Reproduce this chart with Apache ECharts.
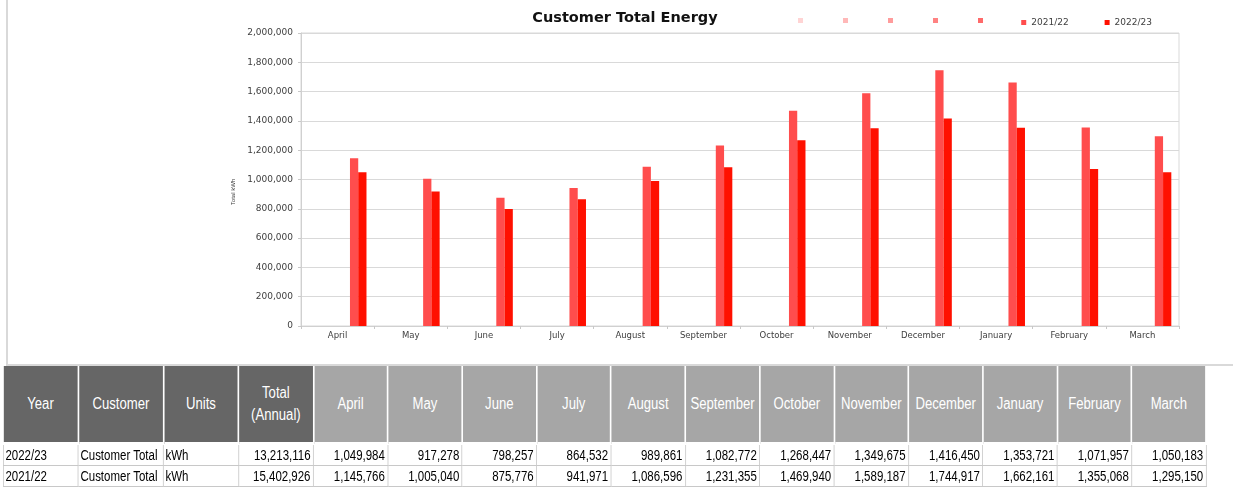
<!DOCTYPE html>
<html>
<head>
<meta charset="utf-8">
<script src="https://cdn.jsdelivr.net/npm/echarts@6/dist/echarts.min.js"></script>
<style>
html,body{margin:0;padding:0;background:#fff;width:1233px;height:495px;overflow:hidden;}
#frame{position:absolute;left:6px;top:-2px;width:1240px;height:368px;border-left:2px solid #d9d9d9;border-bottom:2px solid #d9d9d9;box-sizing:border-box;}
#chart{position:absolute;left:0;top:0;width:1233px;height:366px;}
#tbl{position:absolute;left:3px;top:366px;border-collapse:collapse;table-layout:fixed;
  transform:scaleX(0.82);transform-origin:0 0;
  font-family:"Liberation Sans",Arial,sans-serif;}
#tbl th{height:76px;padding:0;color:#fff;font-weight:normal;font-size:16px;line-height:22px;text-align:center;
  border-right:2px solid #fff;border-bottom:3px solid #fff;}
#tbl th.dark{background:#666666;}
#tbl th.light{background:#a6a6a6;}
#tbl td{height:20px;padding:0 3px;font-size:14px;color:#000;border:1px solid #c8c8c8;white-space:nowrap;overflow:hidden;}
#tbl td.l{text-align:left;padding-left:2px;}
#tbl td.r{text-align:right;}
</style>
</head>
<body>
<div id="frame"></div>
<div id="chart"></div>
<table id="tbl"></table>
<script>
// ---- data ----
const categories = ['April','May','June','July','August','September','October','November','December','January','February','March'];
const values2122 = [1145766,1005040,875776,941971,1086596,1231355,1469940,1589187,1744917,1662161,1355068,1295150];
const values2223 = [1049984,917278,798257,864532,989861,1082772,1268447,1349675,1416450,1353721,1071957,1050183];
const seriesNames = ['2021/22','2022/23'];
const emptySeriesNames = ['e1','e2','e3','e4','e5'];
const tableYears = ['2022/23','2021/22'];
const tableCustomer = ['Customer Total','Customer Total'];
const tableUnits = ['kWh','kWh'];
const tableTotals = [13213116,15402926];
const headerLabels = ['Year','Customer','Units','Total<br>(Annual)'];
const yMin = 0, yMax = 2000000, yInterval = 200000;

// ---- styles ----
const emptyColors = ['#ffd4d4','#ffb8b8','#ff9c9c','#ff8282','#ff6a6a'];
const seriesColors = ['#ff4d4d','#ff1000'];
const fmt = v => Number(v).toLocaleString('en-US');
const txtFont = 'DejaVu Sans';
const scaleK = 0.82;

const series = [];
emptySeriesNames.forEach((n,i)=>{
  series.push({name:n,type:'bar',data:[],itemStyle:{color:emptyColors[i]},barGap:'0%',barCategoryGap:'21%'});
});
series.push({name:seriesNames[0],type:'bar',data:values2122,itemStyle:{color:seriesColors[0]},barGap:'0%',barCategoryGap:'21%'});
series.push({name:seriesNames[1],type:'bar',data:values2223,itemStyle:{color:seriesColors[1]},barGap:'0%',barCategoryGap:'21%'});

const legendBase = {itemWidth:5,itemHeight:5,icon:'rect',top:13,
  textStyle:{fontFamily:txtFont,fontSize:9,color:'#404040'}};

const chart = echarts.init(document.getElementById('chart'), null, {renderer:'canvas'});
chart.setOption({
  animation:false,
  backgroundColor:'transparent',
  title:{text:'Customer Total Energy',left:620,textAlign:'center',top:6,
    textStyle:{fontFamily:txtFont,fontWeight:'bold',fontSize:14.5,color:'#111'}},
  legend:[
    Object.assign({},legendBase,{right:245,itemGap:40,data:emptySeriesNames,formatter:()=>''}),
    Object.assign({},legendBase,{right:76,itemGap:36,data:seriesNames})
  ],
  grid:{left:301,right:54,top:33,bottom:40,show:true,borderColor:'#d9d9d9',borderWidth:1,containLabel:false},
  xAxis:{type:'category',data:categories,
    axisLine:{lineStyle:{color:'#d0d0d0'}},
    axisTick:{show:true,length:3,lineStyle:{color:'#c8c8c8'}},
    axisLabel:{fontFamily:txtFont,fontSize:8.5,color:'#404040',margin:5},
    splitLine:{show:false}},
  yAxis:{type:'value',min:yMin,max:yMax,interval:yInterval,
    name:'Total kWh',nameLocation:'middle',nameGap:52,
    nameTextStyle:{fontFamily:'Liberation Sans',fontSize:6,color:'#404040',padding:[0,25,0,0]},
    axisLine:{show:true,lineStyle:{color:'#d0d0d0'}},
    axisTick:{show:true,length:3,lineStyle:{color:'#c8c8c8'}},
    splitLine:{lineStyle:{color:'#d9d9d9'}},
    axisLabel:{fontFamily:txtFont,fontSize:9,color:'#404040',margin:8,formatter:fmt}},
  series:series
});

// ---- table ----
const colW = [75,85,75,75].concat(categories.map(()=>74.4)).map(w=>w/scaleK);
const totalW = colW.reduce((a,b)=>a+b,0);
const tbl = document.getElementById('tbl');
tbl.style.width = totalW + 'px';
let html = '<colgroup>' + colW.map(w=>'<col style="width:'+w+'px">').join('') + '</colgroup>';
html += '<tr>' + headerLabels.map(h=>'<th class="dark">'+h+'</th>').join('') +
        categories.map(c=>'<th class="light">'+c+'</th>').join('') + '</tr>';
const rowsData = [values2223, values2122];
tableYears.forEach((y,i)=>{
  html += '<tr><td class="l">'+y+'</td><td class="l">'+tableCustomer[i]+'</td><td class="l">'+tableUnits[i]+'</td>'+
    '<td class="r">'+fmt(tableTotals[i])+'</td>' + rowsData[i].map(v=>'<td class="r">'+fmt(v)+'</td>').join('') + '</tr>';
});
tbl.innerHTML = html;
</script>
</body>
</html>
